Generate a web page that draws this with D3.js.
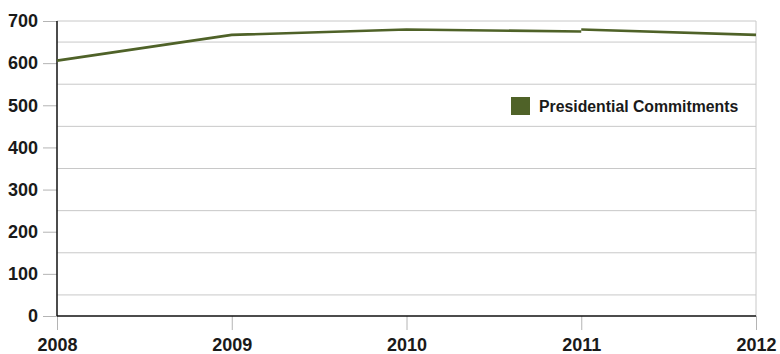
<!DOCTYPE html>
<html>
<head>
<meta charset="utf-8">
<script src="https://cdn.jsdelivr.net/npm/d3@7"></script>
<style>
  html, body { margin: 0; padding: 0; background: #fff; }
  svg { display: block; font-family: "Liberation Sans", Arial, Helvetica, sans-serif; }
</style>
</head>
<body>
<svg id="chart" width="780" height="354"></svg>
<script>
// Presidential commitments per year; the series restates at 2011,
// so the line is drawn as two segments meeting there.
const years = [2008, 2009, 2010, 2011, 2012];
const segmentA = [[2008, 606], [2009, 667], [2010, 680], [2011, 675]];
const segmentB = [[2011, 680], [2012, 667]];
const yTicks = [0, 100, 200, 300, 400, 500, 600, 700];
const gridValues = [50, 150, 250, 350, 450, 550, 650, 700];
const seriesName = "Presidential Commitments";
const seriesColor = "#4f6228";

const svg = d3.select("#chart");
const margin = { left: 57, right: 24, top: 21, bottom: 38 };
const W = 780, H = 354;

const x = d3.scaleLinear().domain([2008, 2012]).range([margin.left, W - margin.right]);
const y = d3.scaleLinear().domain([0, 700]).range([H - margin.bottom, margin.top]);

// horizontal grid lines
svg.append("g").selectAll("line").data(gridValues).join("line")
  .attr("x1", x(2008)).attr("x2", x(2012))
  .attr("y1", d => y(d)).attr("y2", d => y(d))
  .attr("stroke", "#c8c8c8").attr("stroke-width", 1);

// right border
svg.append("line")
  .attr("x1", x(2012)).attr("x2", x(2012))
  .attr("y1", y(700)).attr("y2", y(0))
  .attr("stroke", "#c8c8c8").attr("stroke-width", 1);

// y axis
const yAxis = svg.append("g")
  .attr("transform", `translate(${margin.left},0)`)
  .call(d3.axisLeft(y).tickValues(yTicks).tickSize(14).tickPadding(5).tickFormat(d3.format("d")));
yAxis.select(".domain").remove();
yAxis.selectAll(".tick line").attr("stroke", "#b4b4b4");
yAxis.selectAll(".tick text")
  .attr("font-size", 18).attr("font-weight", "bold").attr("fill", "#1a1a1a")
  .attr("font-family", "'Liberation Sans', Arial, sans-serif");

// x axis
const xAxis = svg.append("g")
  .attr("transform", `translate(0,${y(0)})`)
  .call(d3.axisBottom(x).tickValues(years).tickSize(14).tickPadding(8).tickFormat(d3.format("d")));
xAxis.select(".domain").remove();
xAxis.selectAll(".tick line").attr("stroke", "#b4b4b4");
xAxis.selectAll(".tick text")
  .attr("font-size", 18).attr("font-weight", "bold").attr("fill", "#1a1a1a")
  .attr("font-family", "'Liberation Sans', Arial, sans-serif");

// black axis lines
svg.append("line")
  .attr("x1", x(2008)).attr("x2", x(2008)).attr("y1", y(700)).attr("y2", y(0))
  .attr("stroke", "#111").attr("stroke-width", 1.5);
svg.append("line")
  .attr("x1", x(2008)).attr("x2", x(2012)).attr("y1", y(0)).attr("y2", y(0))
  .attr("stroke", "#111").attr("stroke-width", 1.5);

// series line
const line = d3.line().x(d => x(d[0])).y(d => y(d[1]));
[segmentA, segmentB].forEach(seg => {
  svg.append("path").datum(seg)
    .attr("d", line)
    .attr("fill", "none")
    .attr("stroke", seriesColor)
    .attr("stroke-width", 2.6)
    .attr("stroke-linejoin", "round");
});

// legend
const legend = svg.append("g").attr("transform", "translate(511,97)");
legend.append("rect").attr("width", 19).attr("height", 18).attr("fill", seriesColor);
legend.append("text")
  .attr("x", 28).attr("y", 14.5)
  .attr("font-size", 15.8).attr("font-weight", "bold").attr("fill", "#1a1a1a")
  .text(seriesName);
</script>
</body>
</html>
